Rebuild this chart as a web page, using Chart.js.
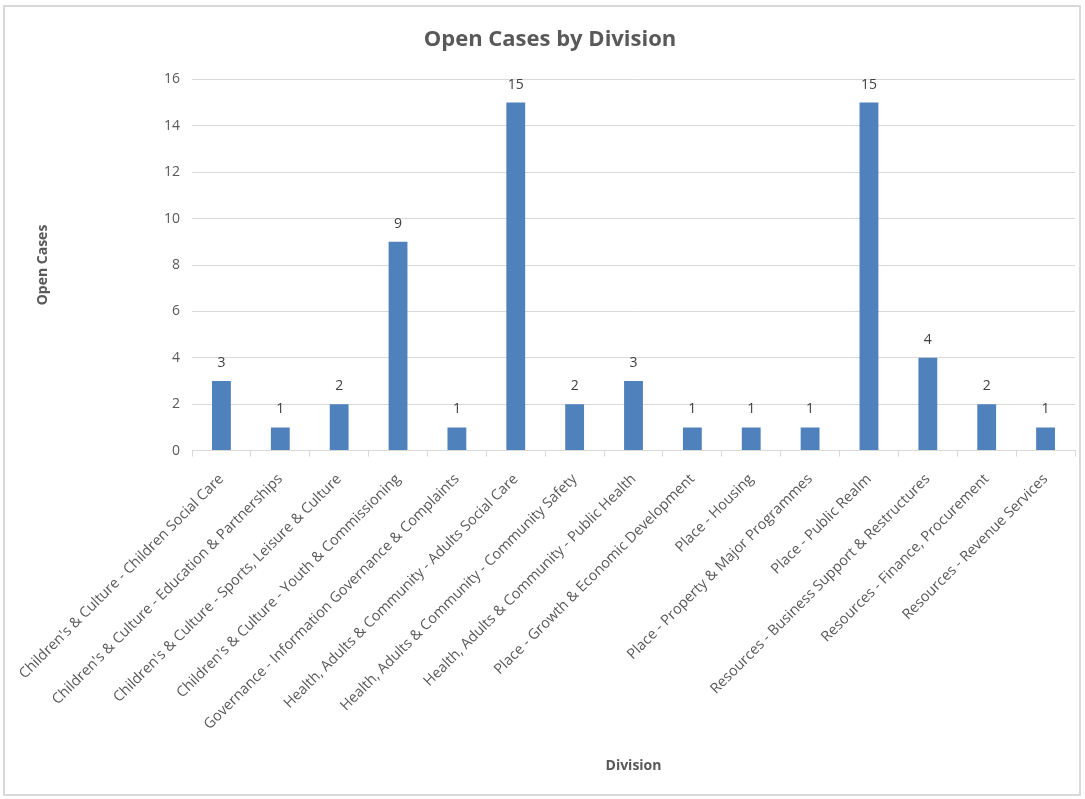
<!DOCTYPE html>
<html>
<head>
<meta charset="utf-8">
<script src="https://cdn.jsdelivr.net/npm/chart.js@4.4.0/dist/chart.umd.min.js"></script>
<style>
  html, body { margin: 0; padding: 0; background: #fff; }
  #frame {
    position: absolute; left: 3px; top: 5px; width: 1078px; height: 791px;
    border: 2px solid #d9d9d9; box-sizing: border-box; background: #fff;
  }
  #wrap { position: absolute; left: 0; top: 0; width: 1074px; height: 787px; }
</style>
</head>
<body>
<div id="frame"><div id="wrap"><canvas id="casesChart"></canvas></div></div>
<script>
const divisions = [
  "Children's & Culture - Children Social Care",
  "Children's & Culture - Education & Partnerships",
  "Children's & Culture - Sports, Leisure & Culture",
  "Children's & Culture - Youth & Commissioning",
  "Governance - Information Governance & Complaints",
  "Health, Adults & Community - Adults Social Care",
  "Health, Adults & Community - Community Safety",
  "Health, Adults & Community - Public Health",
  "Place - Growth & Economic Development",
  "Place - Housing",
  "Place - Property & Major Programmes",
  "Place - Public Realm",
  "Resources - Business Support & Restructures",
  "Resources - Finance, Procurement",
  "Resources - Revenue Services"
];
const openCases = [3, 1, 2, 9, 1, 15, 2, 3, 1, 1, 1, 15, 4, 2, 1];

const textGrey = '#595959';
const gridGrey = '#d9d9d9';
const labelFont = 'Open Sans';

// value labels above each bar
const barValues = {
  id: 'barValues',
  afterDatasetsDraw(chart) {
    const ctx = chart.ctx;
    const meta = chart.getDatasetMeta(0);
    ctx.save();
    ctx.font = '14px "' + labelFont + '"';
    ctx.fillStyle = '#404040';
    ctx.textAlign = 'center';
    ctx.textBaseline = 'bottom';
    meta.data.forEach((bar, i) => {
      ctx.fillText(String(chart.data.datasets[0].data[i]), bar.x, bar.y - 11);
    });
    ctx.restore();
  }
};

new Chart(document.getElementById('casesChart').getContext('2d'), {
  type: 'bar',
  data: {
    labels: divisions,
    datasets: [{
      label: 'Open Cases',
      data: openCases,
      backgroundColor: '#4f81bd',
      borderWidth: 0,
      barPercentage: 0.32,
      categoryPercentage: 1
    }]
  },
  options: {
    responsive: true,
    maintainAspectRatio: false,
    animation: false,
    layout: { padding: { left: 20, right: 4, top: 8, bottom: 20 } },
    plugins: {
      legend: { display: false },
      tooltip: { enabled: false },
      title: {
        display: true,
        text: 'Open Cases by Division',
        color: textGrey,
        font: { family: labelFont, size: 22, weight: 'bold' },
        padding: { top: 12, bottom: 26 }
      }
    },
    scales: {
      x: {
        // long rotated labels may hang past the left edge of the plot
        afterFit(scale) { scale.paddingLeft = 0; },
        grid: {
          display: true,
          drawOnChartArea: false,
          drawTicks: true,
          tickLength: 6,
          offset: true,
          color: gridGrey,
          lineWidth: 1
        },
        border: { display: true, color: gridGrey, width: 1 },
        ticks: {
          color: textGrey,
          font: { family: labelFont, size: 14.5 },
          minRotation: 45,
          maxRotation: 45,
          autoSkip: false,
          padding: 14
        },
        title: {
          display: true,
          text: 'Division',
          color: textGrey,
          font: { family: labelFont, size: 14, weight: 'bold' },
          padding: { top: 10, bottom: 0 }
        }
      },
      y: {
        afterFit(scale) { scale.width = 167; },
        min: 0,
        max: 16,
        ticks: {
          stepSize: 2,
          color: textGrey,
          font: { family: labelFont, size: 14 },
          padding: 12
        },
        grid: { color: gridGrey, lineWidth: 1, drawTicks: false },
        border: { display: false },
        title: {
          display: true,
          text: 'Open Cases',
          color: textGrey,
          font: { family: labelFont, size: 14, weight: 'bold' },
          padding: { top: 10, bottom: 0 }
        }
      }
    }
  },
  plugins: [barValues]
});
</script>
</body>
</html>
